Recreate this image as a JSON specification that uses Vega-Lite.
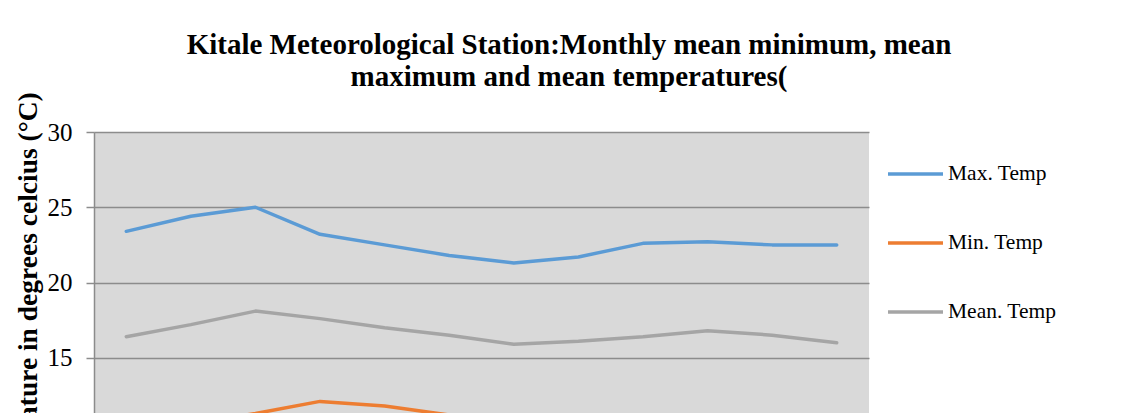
{
  "$schema": "https://vega.github.io/schema/vega-lite/v6.json",
  "autosize": {"type": "none"},
  "width": 775,
  "height": 301,
  "padding": {"left": 94, "top": 132, "right": 269, "bottom": 50},
  "background": "white",
  "title": {
    "text": ["Kitale Meteorological Station:Monthly mean minimum, mean", "maximum and mean temperatures("],
    "font": "Liberation Serif",
    "fontSize": 29,
    "fontWeight": "bold",
    "color": "black",
    "anchor": "middle",
    "frame": "group",
    "dx": 87.5,
    "dy": 18,
    "offset": 18,
    "lineHeight": 32
  },
  "data": {
    "values": [
      {"month": "Jan", "series": "Max. Temp", "temp": 23.4},
      {"month": "Feb", "series": "Max. Temp", "temp": 24.4},
      {"month": "Mar", "series": "Max. Temp", "temp": 25.0},
      {"month": "Apr", "series": "Max. Temp", "temp": 23.2},
      {"month": "May", "series": "Max. Temp", "temp": 22.5},
      {"month": "Jun", "series": "Max. Temp", "temp": 21.8},
      {"month": "Jul", "series": "Max. Temp", "temp": 21.3},
      {"month": "Aug", "series": "Max. Temp", "temp": 21.7},
      {"month": "Sep", "series": "Max. Temp", "temp": 22.6},
      {"month": "Oct", "series": "Max. Temp", "temp": 22.7},
      {"month": "Nov", "series": "Max. Temp", "temp": 22.5},
      {"month": "Dec", "series": "Max. Temp", "temp": 22.5},
      {"month": "Jan", "series": "Min. Temp", "temp": 10.2},
      {"month": "Feb", "series": "Min. Temp", "temp": 10.6},
      {"month": "Mar", "series": "Min. Temp", "temp": 11.3},
      {"month": "Apr", "series": "Min. Temp", "temp": 12.1},
      {"month": "May", "series": "Min. Temp", "temp": 11.8},
      {"month": "Jun", "series": "Min. Temp", "temp": 11.2},
      {"month": "Jul", "series": "Min. Temp", "temp": 10.9},
      {"month": "Aug", "series": "Min. Temp", "temp": 10.8},
      {"month": "Sep", "series": "Min. Temp", "temp": 10.6},
      {"month": "Oct", "series": "Min. Temp", "temp": 10.9},
      {"month": "Nov", "series": "Min. Temp", "temp": 10.7},
      {"month": "Dec", "series": "Min. Temp", "temp": 10.1},
      {"month": "Jan", "series": "Mean. Temp", "temp": 16.4},
      {"month": "Feb", "series": "Mean. Temp", "temp": 17.2},
      {"month": "Mar", "series": "Mean. Temp", "temp": 18.1},
      {"month": "Apr", "series": "Mean. Temp", "temp": 17.6},
      {"month": "May", "series": "Mean. Temp", "temp": 17.0},
      {"month": "Jun", "series": "Mean. Temp", "temp": 16.5},
      {"month": "Jul", "series": "Mean. Temp", "temp": 15.9},
      {"month": "Aug", "series": "Mean. Temp", "temp": 16.1},
      {"month": "Sep", "series": "Mean. Temp", "temp": 16.4},
      {"month": "Oct", "series": "Mean. Temp", "temp": 16.8},
      {"month": "Nov", "series": "Mean. Temp", "temp": 16.5},
      {"month": "Dec", "series": "Mean. Temp", "temp": 16.0}
    ]
  },
  "mark": {"type": "line", "strokeWidth": 3.5, "strokeCap": "round", "strokeJoin": "round", "clip": true},
  "encoding": {
    "x": {
      "field": "month",
      "type": "ordinal",
      "sort": ["Jan", "Feb", "Mar", "Apr", "May", "Jun", "Jul", "Aug", "Sep", "Oct", "Nov", "Dec"],
      "axis": {
        "title": null,
        "labelAngle": 0,
        "labelFont": "Liberation Serif",
        "labelFontSize": 20,
        "labelColor": "black",
        "domainColor": "#8c8c8c",
        "domainWidth": 1.5,
        "tickColor": "#8c8c8c",
        "grid": false
      }
    },
    "y": {
      "field": "temp",
      "type": "quantitative",
      "scale": {"domain": [10, 30], "nice": false, "zero": false},
      "axis": {
        "values": [10, 15, 20, 25, 30],
        "title": "Temperature in degrees celcius (°C)",
        "titleFont": "Liberation Serif",
        "titleFontSize": 27.5,
        "titleFontWeight": "bold",
        "titleColor": "black",
        "titleAngle": 270,
        "titleAlign": "center",
        "titleBaseline": "alphabetic",
        "titleX": -58,
        "titleY": 169,
        "labelFont": "Liberation Serif",
        "labelFontSize": 25,
        "labelColor": "black",
        "labelPadding": 14,
        "tickSize": 8,
        "tickColor": "#8c8c8c",
        "tickWidth": 1.5,
        "domainColor": "#8c8c8c",
        "domainWidth": 1.5,
        "grid": true,
        "gridColor": "#8c8c8c",
        "gridWidth": 1.5
      }
    },
    "color": {
      "field": "series",
      "type": "nominal",
      "scale": {"domain": ["Max. Temp", "Min. Temp", "Mean. Temp"], "range": ["#5b9bd5", "#ed7d31", "#a5a5a5"]},
      "legend": {
        "title": null,
        "orient": "none",
        "legendX": 792,
        "legendY": 12.5,
        "padding": 0,
        "symbolType": "stroke",
        "symbolSize": 3025,
        "symbolStrokeWidth": 3.5,
        "labelFont": "Liberation Serif",
        "labelFontSize": 21.5,
        "labelColor": "black",
        "labelOffset": 3,
        "rowPadding": 29
      }
    }
  },
  "config": {
    "view": {"fill": "#d9d9d9", "stroke": null}
  }
}
